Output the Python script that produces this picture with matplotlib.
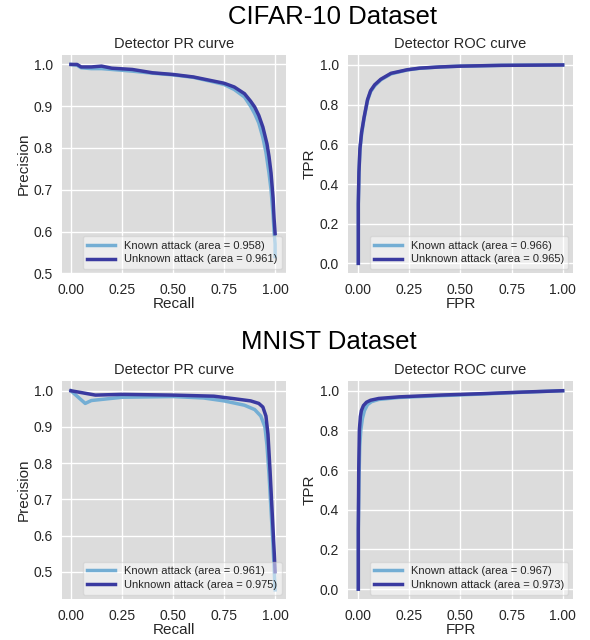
import matplotlib
matplotlib.use("Agg")
import matplotlib.pyplot as plt

plt.rcParams['font.family'] = ['Liberation Sans', 'DejaVu Sans']

# ---------------- data ----------------
cifar_pr_known_recall = [0.0, 0.03, 0.05, 0.1, 0.15, 0.2, 0.3, 0.4, 0.5, 0.6, 0.7, 0.75, 0.8, 0.85,
                         0.88, 0.9, 0.92, 0.94, 0.955, 0.97, 0.98, 0.99, 0.995, 1.0, 1.0]
cifar_pr_known_prec = [1.0, 0.998, 0.992, 0.99, 0.99, 0.988, 0.984, 0.979, 0.975, 0.969, 0.958, 0.952,
                       0.94, 0.922, 0.9, 0.882, 0.86, 0.825, 0.79, 0.74, 0.7, 0.64, 0.6, 0.57, 0.54]
cifar_pr_unknown_recall = [0.0, 0.03, 0.05, 0.1, 0.15, 0.2, 0.3, 0.4, 0.5, 0.6, 0.7, 0.75, 0.8, 0.85,
                           0.88, 0.9, 0.92, 0.94, 0.96, 0.97, 0.98, 0.99, 0.995, 1.0]
cifar_pr_unknown_prec = [1.0, 1.0, 0.994, 0.994, 0.996, 0.991, 0.988, 0.98, 0.976, 0.97, 0.96, 0.955,
                         0.946, 0.93, 0.912, 0.898, 0.878, 0.85, 0.81, 0.78, 0.74, 0.68, 0.63, 0.595]

cifar_roc_known_fpr = [0.0, 0.0, 0.003, 0.008, 0.016, 0.028, 0.045, 0.06, 0.08, 0.11, 0.16, 0.24,
                       0.3, 0.4, 0.5, 0.7, 0.85, 1.0]
cifar_roc_known_tpr = [0.0, 0.3, 0.45, 0.57, 0.65, 0.73, 0.82, 0.865, 0.895, 0.925, 0.955, 0.975,
                       0.983, 0.99, 0.994, 0.998, 0.999, 1.0]
cifar_roc_unknown_fpr = [0.0, 0.0, 0.003, 0.008, 0.016, 0.028, 0.045, 0.06, 0.08, 0.11, 0.16, 0.24,
                         0.3, 0.4, 0.5, 0.7, 0.85, 1.0]
cifar_roc_unknown_tpr = [0.0, 0.3, 0.46, 0.58, 0.66, 0.735, 0.825, 0.87, 0.9, 0.928, 0.958, 0.976,
                         0.984, 0.99, 0.994, 0.998, 0.999, 1.0]

mnist_pr_known_recall = [0.0, 0.07, 0.1, 0.25, 0.5, 0.65, 0.75, 0.85, 0.9, 0.93, 0.95, 0.96,
                         0.97, 0.98, 0.99, 1.0]
mnist_pr_known_prec = [1.0, 0.965, 0.973, 0.982, 0.984, 0.98, 0.972, 0.96, 0.948, 0.93, 0.9, 0.85,
                       0.77, 0.67, 0.57, 0.45]
mnist_pr_unknown_recall = [0.0, 0.12, 0.25, 0.5, 0.7, 0.8, 0.88, 0.92, 0.94, 0.955, 0.965, 0.975,
                           0.985, 0.995, 1.0]
mnist_pr_unknown_prec = [1.0, 0.988, 0.99, 0.988, 0.985, 0.978, 0.972, 0.965, 0.955, 0.93, 0.88,
                         0.78, 0.67, 0.56, 0.5]

mnist_roc_known_fpr = [0.0, 0.0, 0.003, 0.007, 0.012, 0.02, 0.03, 0.045, 0.065, 0.1, 0.2, 0.4,
                       0.6, 0.8, 1.0]
mnist_roc_known_tpr = [0.0, 0.3, 0.55, 0.72, 0.8, 0.86, 0.9, 0.93, 0.945, 0.956, 0.966, 0.975,
                       0.983, 0.992, 1.0]
mnist_roc_unknown_fpr = [0.0, 0.0, 0.002, 0.005, 0.01, 0.015, 0.025, 0.04, 0.06, 0.1, 0.2, 0.4,
                         0.6, 0.8, 1.0]
mnist_roc_unknown_tpr = [0.0, 0.3, 0.6, 0.8, 0.87, 0.9, 0.925, 0.942, 0.952, 0.961, 0.969, 0.978,
                         0.985, 0.993, 1.0]

cifar_pr_area = (0.958, 0.961)
cifar_roc_area = (0.966, 0.965)
mnist_pr_area = (0.961, 0.975)
mnist_roc_area = (0.967, 0.973)

LIGHT = '#74aed4'
DARK = '#3a3aa0'
BG = '#dcdcdc'
TXT = '#262626'

fig = plt.figure(figsize=(5.9, 6.4), dpi=100)

def style(ax, title, xlabel, ylabel):
    ax.set_facecolor(BG)
    for s in ax.spines.values():
        s.set_visible(False)
    ax.grid(True, color='white', linewidth=1.0)
    ax.set_axisbelow(True)
    ax.tick_params(length=0, labelsize=10, colors=TXT)
    ax.tick_params(axis='x', pad=7)
    ax.tick_params(axis='y', pad=6.5)
    ax.set_title(title, fontsize=10.5, color=TXT, pad=5)
    ax.set_xlabel(xlabel, fontsize=11, color=TXT, labelpad=0)
    ax.set_ylabel(ylabel, fontsize=11, color=TXT, labelpad=2)
    ax.set_xticks([0, 0.25, 0.5, 0.75, 1.0])
    ax.set_xticklabels(['0.00', '0.25', '0.50', '0.75', '1.00'])

def legend(ax):
    leg = ax.legend(loc='lower right', fontsize=8, frameon=True, fancybox=True,
                    handlelength=2.5, borderpad=0.4, labelspacing=0.35, borderaxespad=0.4)
    leg.get_frame().set_facecolor('white')
    leg.get_frame().set_alpha(0.5)
    leg.get_frame().set_edgecolor('#cccccc')
    for t in leg.get_texts():
        t.set_color(TXT)

# CIFAR PR
ax1 = fig.add_axes([0.105, 0.573, 0.380, 0.341])
ax1.plot(cifar_pr_known_recall, cifar_pr_known_prec, color=LIGHT, lw=2.5,
         label=f'Known attack (area = {cifar_pr_area[0]:.3f})')
ax1.plot(cifar_pr_unknown_recall, cifar_pr_unknown_prec, color=DARK, lw=2.5,
         label=f'Unknown attack (area = {cifar_pr_area[1]:.3f})')
style(ax1, 'Detector PR curve', 'Recall', 'Precision')
ax1.set_xlim(-0.044, 1.054)
ax1.set_ylim(0.5, 1.0225)
ax1.set_yticks([0.5, 0.6, 0.7, 0.8, 0.9, 1.0])
legend(ax1)

# CIFAR ROC
ax2 = fig.add_axes([0.590, 0.573, 0.381, 0.341])
ax2.plot(cifar_roc_known_fpr, cifar_roc_known_tpr, color=LIGHT, lw=2.5,
         label=f'Known attack (area = {cifar_roc_area[0]:.3f})')
ax2.plot(cifar_roc_unknown_fpr, cifar_roc_unknown_tpr, color=DARK, lw=2.5,
         label=f'Unknown attack (area = {cifar_roc_area[1]:.3f})')
style(ax2, 'Detector ROC curve', 'FPR', 'TPR')
ax2.set_xlim(-0.05, 1.05)
ax2.set_ylim(-0.05, 1.05)
legend(ax2)

# MNIST PR
ax3 = fig.add_axes([0.105, 0.064, 0.380, 0.341])
ax3.plot(mnist_pr_known_recall, mnist_pr_known_prec, color=LIGHT, lw=2.5,
         label=f'Known attack (area = {mnist_pr_area[0]:.3f})')
ax3.plot(mnist_pr_unknown_recall, mnist_pr_unknown_prec, color=DARK, lw=2.5,
         label=f'Unknown attack (area = {mnist_pr_area[1]:.3f})')
style(ax3, 'Detector PR curve', 'Recall', 'Precision')
ax3.set_xlim(-0.044, 1.054)
ax3.set_ylim(0.4246, 1.0275)
ax3.set_yticks([0.5, 0.6, 0.7, 0.8, 0.9, 1.0])
legend(ax3)

# MNIST ROC
ax4 = fig.add_axes([0.590, 0.064, 0.381, 0.341])
ax4.plot(mnist_roc_known_fpr, mnist_roc_known_tpr, color=LIGHT, lw=2.5,
         label=f'Known attack (area = {mnist_roc_area[0]:.3f})')
ax4.plot(mnist_roc_unknown_fpr, mnist_roc_unknown_tpr, color=DARK, lw=2.5,
         label=f'Unknown attack (area = {mnist_roc_area[1]:.3f})')
style(ax4, 'Detector ROC curve', 'FPR', 'TPR')
ax4.set_xlim(-0.05, 1.05)
ax4.set_ylim(-0.05, 1.05)
legend(ax4)

fig.text(332 / 590, 1 - 17 / 640, 'CIFAR-10 Dataset', ha='center', va='center', fontsize=18.5, color='black')
fig.text(329 / 590, 1 - 342 / 640, 'MNIST Dataset', ha='center', va='center', fontsize=18.5, color='black')

fig.savefig('out.png', dpi=100)
